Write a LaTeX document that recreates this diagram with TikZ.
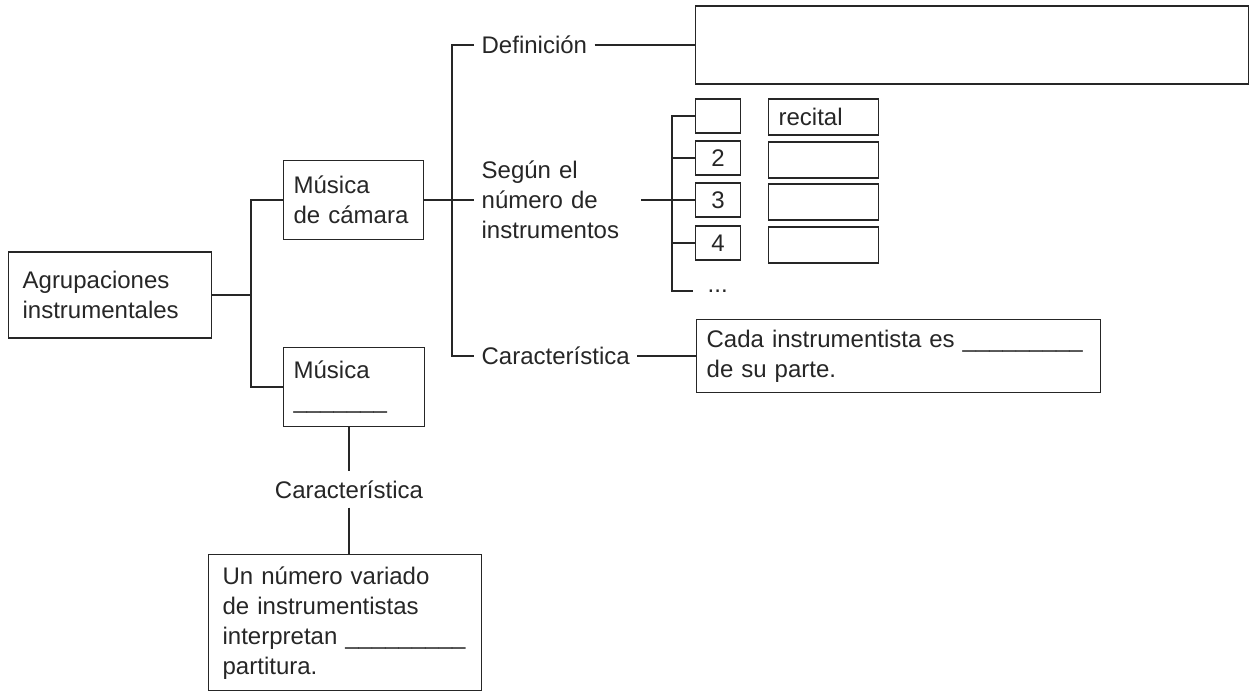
\documentclass[tikz,border=0pt]{standalone}
\usepackage{fontspec}
\setmainfont{Liberation Sans}
\usepackage{tikz}

\begin{document}
\begin{tikzpicture}[x=1pt, y=-1pt, line width=1.3pt, color=black!85,
		font=\fontsize{24}{30}\selectfont,
		caja/.style={draw, rectangle, align=left, inner ysep=0pt},
		etiqueta/.style={anchor=west, align=left, inner xsep=7pt, inner ysep=0pt}]
				\useasboundingbox (0,0) rectangle (1255,691);
				\node[caja, anchor=west, inner xsep=14pt, text width=175pt, minimum height=86pt] (agrup)at(8, 295) {Agrupaciones\\instrumentales};
				\node[caja, anchor=west, inner xsep=10pt, text width=120pt, minimum height=79pt] (camara)at(283, 200) {Música\\de cámara};
				\node[caja, anchor=west, inner xsep=10pt, text width=121pt, minimum height=79pt] (musicab)at(283, 387) {Música\\\_\_\_\_\_\_\_};
				\node[etiqueta] (defin)at(474, 45) {Definición};
				\node[etiqueta, text width=152pt] (segun)at(474, 200) {Según el\\número de\\instrumentos};
				\node[etiqueta] (carac1)at(474, 356) {Característica};
				\node[caja, anchor=west, minimum width=553pt, minimum height=78pt] (defbox)at(695, 45) {};
				\node[caja, anchor=west, inner xsep=10pt, text width=384pt, minimum height=73pt] (cada)at(696, 356) {Cada instrumentista es \_\_\_\_\_\_\_\_\_\\de su parte.};
				\node[caja, anchor=west, align=center, minimum width=45pt, minimum height=34pt] (num1)at(695, 116) {};
				\node[caja, anchor=west, align=center, minimum width=45pt, minimum height=34pt] (num2)at(695, 158) {2};
				\node[caja, anchor=west, align=center, minimum width=45pt, minimum height=34pt] (num3)at(695, 200) {3};
				\node[caja, anchor=west, align=center, minimum width=45pt, minimum height=34pt] (num4)at(695, 243) {4};
				\node[caja, anchor=west, inner xsep=10pt, text width=90pt, minimum height=36pt] (resp1)at(768, 117) {recital};
				\node[caja, anchor=west, inner xsep=10pt, text width=90pt, minimum height=36pt] (resp2)at(768, 160) {};
				\node[caja, anchor=west, inner xsep=10pt, text width=90pt, minimum height=36pt] (resp3)at(768, 202) {};
				\node[caja, anchor=west, inner xsep=10pt, text width=90pt, minimum height=36pt] (resp4)at(768, 245) {};
				\node[anchor=west, inner xsep=14pt, inner ysep=0pt] (puntos)at(693, 291) {...};
				\node[minimum height=35pt, inner ysep=0pt] (carac2)at(349, 489.5) {Característica};
				\node[caja, anchor=north west, inner xsep=14pt, text width=245pt, minimum height=136pt] (partitura)at(208, 554) {Un número variado\\de instrumentistas\\interpretan \_\_\_\_\_\_\_\_\_\\partitura.};
				\coordinate (ejeA)at(251, 295);
				\coordinate (ejeB)at(452, 200);
				\coordinate (ejeC)at(672, 291);
				\draw (agrup.east) -- (ejeA);
				\draw (camara.west) -| (ejeA) |- (musicab.west);
				\draw (camara.east) -- (segun.west);
				\draw (defin.west) -| (ejeB) |- (carac1.west);
				\draw (defin.east) -- (defbox.west);
				\draw (carac1.east) -- (cada.west);
				\draw (segun.east) -- (num3.west);
				\draw (num1.west) -| (ejeC) -- (puntos.west);
				\draw (num2.west) -- (num2.west -| ejeC);
				\draw (num4.west) -- (num4.west -| ejeC);
				\draw (musicab.south -| carac2.north) -- (carac2.north);
				\draw (carac2.south) -- (partitura.north -| carac2.south);
			\end{tikzpicture}
\end{document}
